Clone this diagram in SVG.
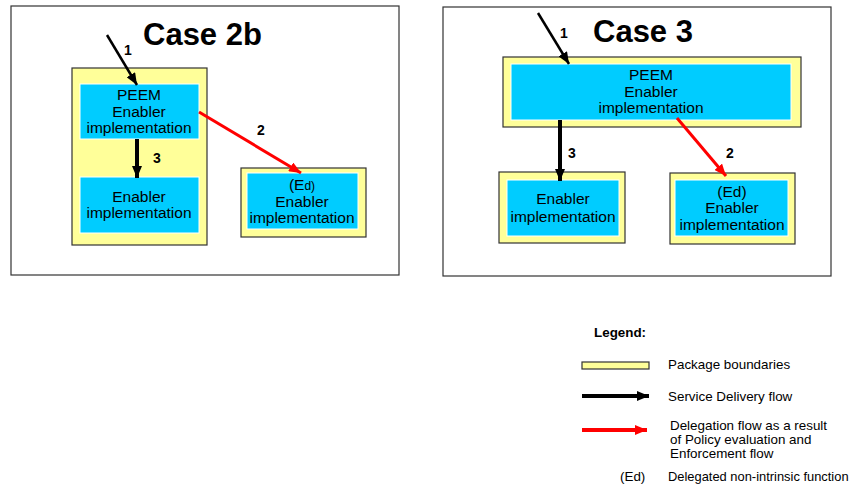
<svg xmlns="http://www.w3.org/2000/svg" width="849" height="489" viewBox="0 0 849 489">
<style>
.frame{fill:#ffffff;stroke:#333333;stroke-width:1.2}
.pkg{fill:#ffff99;stroke:#333333;stroke-width:1.2}
.enb{fill:#00ccff;stroke:#ffffff;stroke-width:1}
.t{font-family:"Liberation Sans",Arial,sans-serif;font-size:15.5px;fill:#000;text-anchor:middle}
.title{font-family:"Liberation Sans",Arial,sans-serif;font-size:31px;font-weight:bold;fill:#000}
.num{font-family:"Liberation Sans",Arial,sans-serif;font-size:14px;font-weight:bold;fill:#000}
.lg{font-family:"Liberation Sans",Arial,sans-serif;font-size:13.4px;fill:#000}
.blk{stroke:#000;fill:none}
.red{stroke:#ff0000;fill:none}
</style>
<defs>
<marker id="ab" viewBox="0 0 12 10" refX="12" refY="5" markerWidth="12" markerHeight="10" markerUnits="userSpaceOnUse" orient="auto"><path d="M0,0 L12,5 L0,10 z" fill="#000"/></marker>
<marker id="ar" viewBox="0 0 12 10" refX="12" refY="5" markerWidth="12" markerHeight="10" markerUnits="userSpaceOnUse" orient="auto"><path d="M0,0 L12,5 L0,10 z" fill="#ff0000"/></marker>
</defs>

<g id="frame-case2b"><rect class="frame" x="11" y="6" width="388" height="269"/><text class="title" x="143" y="45">Case 2b</text></g>
<g id="frame-case3"><rect class="frame" x="443" y="7" width="388" height="269"/><text class="title" x="593" y="42">Case 3</text></g>

<g id="pkg-2b-main"><rect class="pkg" x="72" y="68" width="135" height="177"/></g>
<g id="node-2b-peem"><rect class="enb" x="80" y="84" width="119" height="55"/>
<text class="t" x="139" y="100">PEEM</text><text class="t" x="139" y="117">Enabler</text><text class="t" x="139" y="133">implementation</text></g>
<g id="node-2b-enabler"><rect class="enb" x="80" y="177" width="119" height="56"/>
<text class="t" x="139" y="202">Enabler</text><text class="t" x="139" y="218">implementation</text></g>
<g id="node-2b-ed"><rect class="pkg" x="241" y="168" width="125" height="69"/><rect class="enb" x="247" y="173" width="111" height="56"/>
<text class="t" x="302" y="190">(E<tspan font-size="12px">d)</tspan></text><text class="t" x="302" y="207">Enabler</text><text class="t" x="302" y="223">implementation</text></g>

<g id="node-3-peem"><rect class="pkg" x="503" y="57" width="298" height="70"/><rect class="enb" x="511" y="64" width="280" height="56"/>
<text class="t" x="651" y="80">PEEM</text><text class="t" x="651" y="97">Enabler</text><text class="t" x="651" y="113">implementation</text></g>
<g id="node-3-enabler"><rect class="pkg" x="499" y="172" width="126" height="71"/><rect class="enb" x="507" y="180" width="112" height="56"/>
<text class="t" x="563" y="204">Enabler</text><text class="t" x="563" y="222">implementation</text></g>
<g id="node-3-ed"><rect class="pkg" x="670" y="173" width="125" height="71"/><rect class="enb" x="675" y="180" width="113" height="56"/>
<text class="t" x="732" y="197">(Ed)</text><text class="t" x="732" y="213">Enabler</text><text class="t" x="732" y="230">implementation</text></g>

<g id="connectors">
<line class="blk" x1="107" y1="35" x2="137" y2="85" stroke-width="2.5" marker-end="url(#ab)"/>
<text class="num" x="124" y="55">1</text>
<line class="blk" x1="137" y1="139" x2="137" y2="178" stroke-width="4" marker-end="url(#ab)"/>
<text class="num" x="153" y="163">3</text>
<line class="red" x1="199" y1="112" x2="301" y2="173" stroke-width="3" marker-end="url(#ar)"/>
<text class="num" x="257" y="135">2</text>
<line class="blk" x1="538" y1="13" x2="569" y2="64" stroke-width="2.5" marker-end="url(#ab)"/>
<text class="num" x="560" y="38">1</text>
<line class="blk" x1="560" y1="120" x2="560" y2="181" stroke-width="4" marker-end="url(#ab)"/>
<text class="num" x="568" y="158">3</text>
<line class="red" x1="677" y1="118" x2="726" y2="176" stroke-width="3" marker-end="url(#ar)"/>
<text class="num" x="726" y="158">2</text>
</g>

<g id="legend">
<text class="lg" x="594" y="337" font-weight="bold">Legend:</text>
<rect class="pkg" x="582" y="362" width="67" height="7"/>
<text class="lg" x="668" y="369">Package boundaries</text>
<line class="blk" x1="582" y1="396" x2="649" y2="396" stroke-width="4" marker-end="url(#ab)"/>
<text class="lg" x="668" y="401">Service Delivery flow</text>
<line class="red" x1="582" y1="430" x2="647" y2="430" stroke-width="4" marker-end="url(#ar)"/>
<text class="lg" x="670" y="430">Delegation flow as a result</text>
<text class="lg" x="670" y="444">of Policy evaluation and</text>
<text class="lg" x="670" y="458">Enforcement flow</text>
<text class="lg" x="620" y="481">(Ed)</text>
<text class="lg" x="668" y="481" style="font-size:12.9px">Delegated non-intrinsic function</text>
</g>
</svg>
